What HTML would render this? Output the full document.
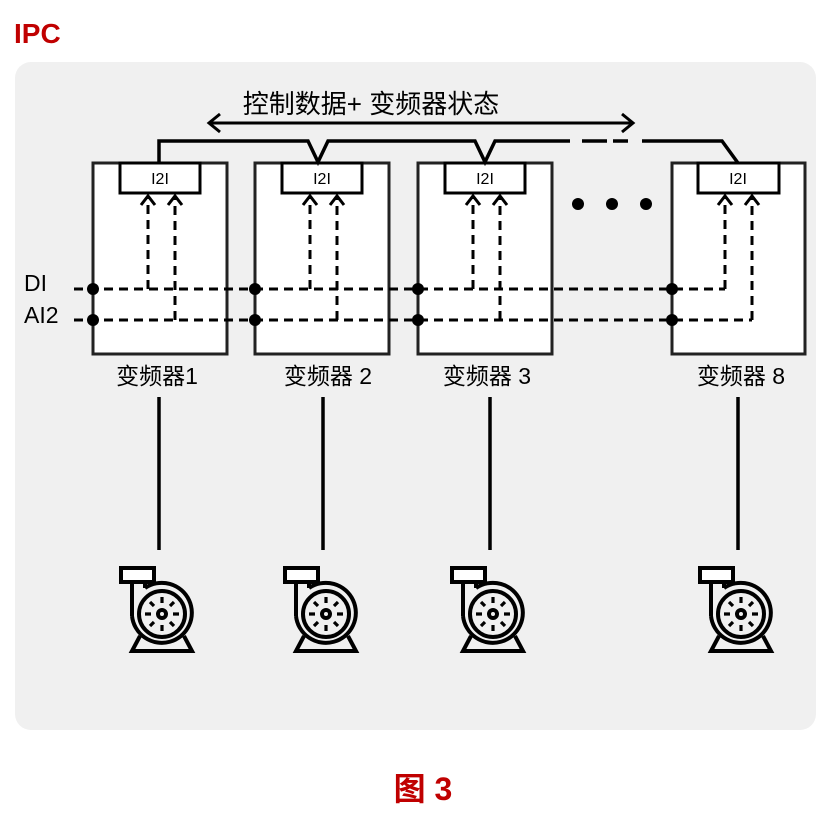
<!DOCTYPE html>
<html><head><meta charset="utf-8"><style>
html,body{margin:0;padding:0;background:#fff;}
svg text{font-family:"Liberation Sans","Noto Sans CJK SC",sans-serif;}
</style></head><body>
<svg width="834" height="814" viewBox="0 0 834 814" xmlns="http://www.w3.org/2000/svg">
<defs>
<g id="pump" fill="none" stroke="#000" stroke-width="4">
  <path d="M-30,2 L-30,-32 M-17,-26 L-17,-32"/>
  <path d="M-17,-26 A30,30 0 1 1 -30,2"/>
  <rect x="-41" y="-46" width="33" height="14" fill="#fff"/>
  <circle cx="0" cy="0" r="23"/>
  <circle cx="0" cy="0" r="4" fill="none"/>
  <g stroke-width="3.2">
  <path d="M0,-17 V-11 M0,11 V17 M-17,0 H-11 M11,0 H17 M-12,-12 L-8,-8 M8,8 L12,12 M12,-12 L8,-8 M-8,8 L-12,12"/>
  </g>
  <path d="M-22,22 L-30,37 H30 L22,22"/>
</g>
</defs>
<text x="14" y="43" font-size="28" font-weight="bold" fill="#c00000">IPC</text>
<rect x="15" y="62" width="801" height="668" rx="16" fill="#f0f0f0"/>
<text x="371" y="113" font-size="26" text-anchor="middle" fill="#000">控制数据+ 变频器状态</text>
<g stroke="#000" stroke-width="3" fill="none">
  <path d="M210,123 H633 M220,114 L209,123 L220,132 M622,114 L633,123 L622,132"/>
</g>
<g stroke="#222" stroke-width="3" fill="#fff">
  <rect x="93" y="163" width="134" height="191"/>
  <rect x="255" y="163" width="134" height="191"/>
  <rect x="418" y="163" width="134" height="191"/>
  <rect x="672" y="163" width="133" height="191"/>
</g>
<g stroke="#000" stroke-width="3" fill="#fff">
  <rect x="120" y="163" width="80" height="30"/>
  <rect x="282" y="163" width="80" height="30"/>
  <rect x="445" y="163" width="80" height="30"/>
  <rect x="698" y="163" width="81" height="30"/>
</g>
<g font-size="16" text-anchor="middle" fill="#000">
  <text x="160" y="184">I2I</text><text x="322" y="184">I2I</text><text x="485" y="184">I2I</text><text x="738" y="184">I2I</text>
</g>
<g stroke="#000" stroke-width="3.5" fill="none">
  <path d="M159,163 V141 H308 L318,162 L328,141 H475 L485,162 L495,141 H570"/>
  <path d="M582,141 H607 M613,141 H628"/>
  <path d="M642,141 H722 L738,163"/>
</g>
<g fill="#000"><circle cx="578" cy="204" r="6"/><circle cx="612" cy="204" r="6"/><circle cx="646" cy="204" r="6"/></g>
<g stroke="#000" stroke-width="3" fill="none" stroke-dasharray="9,6">
  <path d="M74,289 H725"/>
  <path d="M74,320 H752"/>
  <path d="M148,289 V197"/><path d="M175,320 V197"/>
  <path d="M310,289 V197"/><path d="M337,320 V197"/>
  <path d="M473,289 V197"/><path d="M500,320 V197"/>
  <path d="M725,289 V197"/><path d="M752,320 V197"/>
</g>
<g stroke="#000" stroke-width="3" fill="none">
  <path d="M141,205 L148,196 L155,205 M168,205 L175,196 L182,205"/>
  <path d="M303,205 L310,196 L317,205 M330,205 L337,196 L344,205"/>
  <path d="M466,205 L473,196 L480,205 M493,205 L500,196 L507,205"/>
  <path d="M718,205 L725,196 L732,205 M745,205 L752,196 L759,205"/>
</g>
<g fill="#000">
  <circle cx="93" cy="289" r="6"/><circle cx="93" cy="320" r="6"/>
  <circle cx="255" cy="289" r="6"/><circle cx="255" cy="320" r="6"/>
  <circle cx="418" cy="289" r="6"/><circle cx="418" cy="320" r="6"/>
  <circle cx="672" cy="289" r="6"/><circle cx="672" cy="320" r="6"/>
</g>
<g font-size="23" fill="#000">
  <text x="24" y="291">DI</text><text x="24" y="323">AI2</text>
</g>
<g font-size="23" fill="#000" text-anchor="middle">
  <text x="157" y="384">变频器1</text>
  <text x="328" y="384">变频器 2</text>
  <text x="487" y="384">变频器 3</text>
  <text x="741" y="384">变频器 8</text>
</g>
<g stroke="#000" stroke-width="3.5">
  <path d="M159,397 V550 M323,397 V550 M490,397 V550 M738,397 V550"/>
</g>
<use href="#pump" x="162" y="614"/>
<use href="#pump" x="326" y="614"/>
<use href="#pump" x="493" y="614"/>
<use href="#pump" x="741" y="614"/>
<text x="423" y="800" font-size="32" font-weight="bold" fill="#c00000" text-anchor="middle">图 3</text>
</svg>
</body></html>
